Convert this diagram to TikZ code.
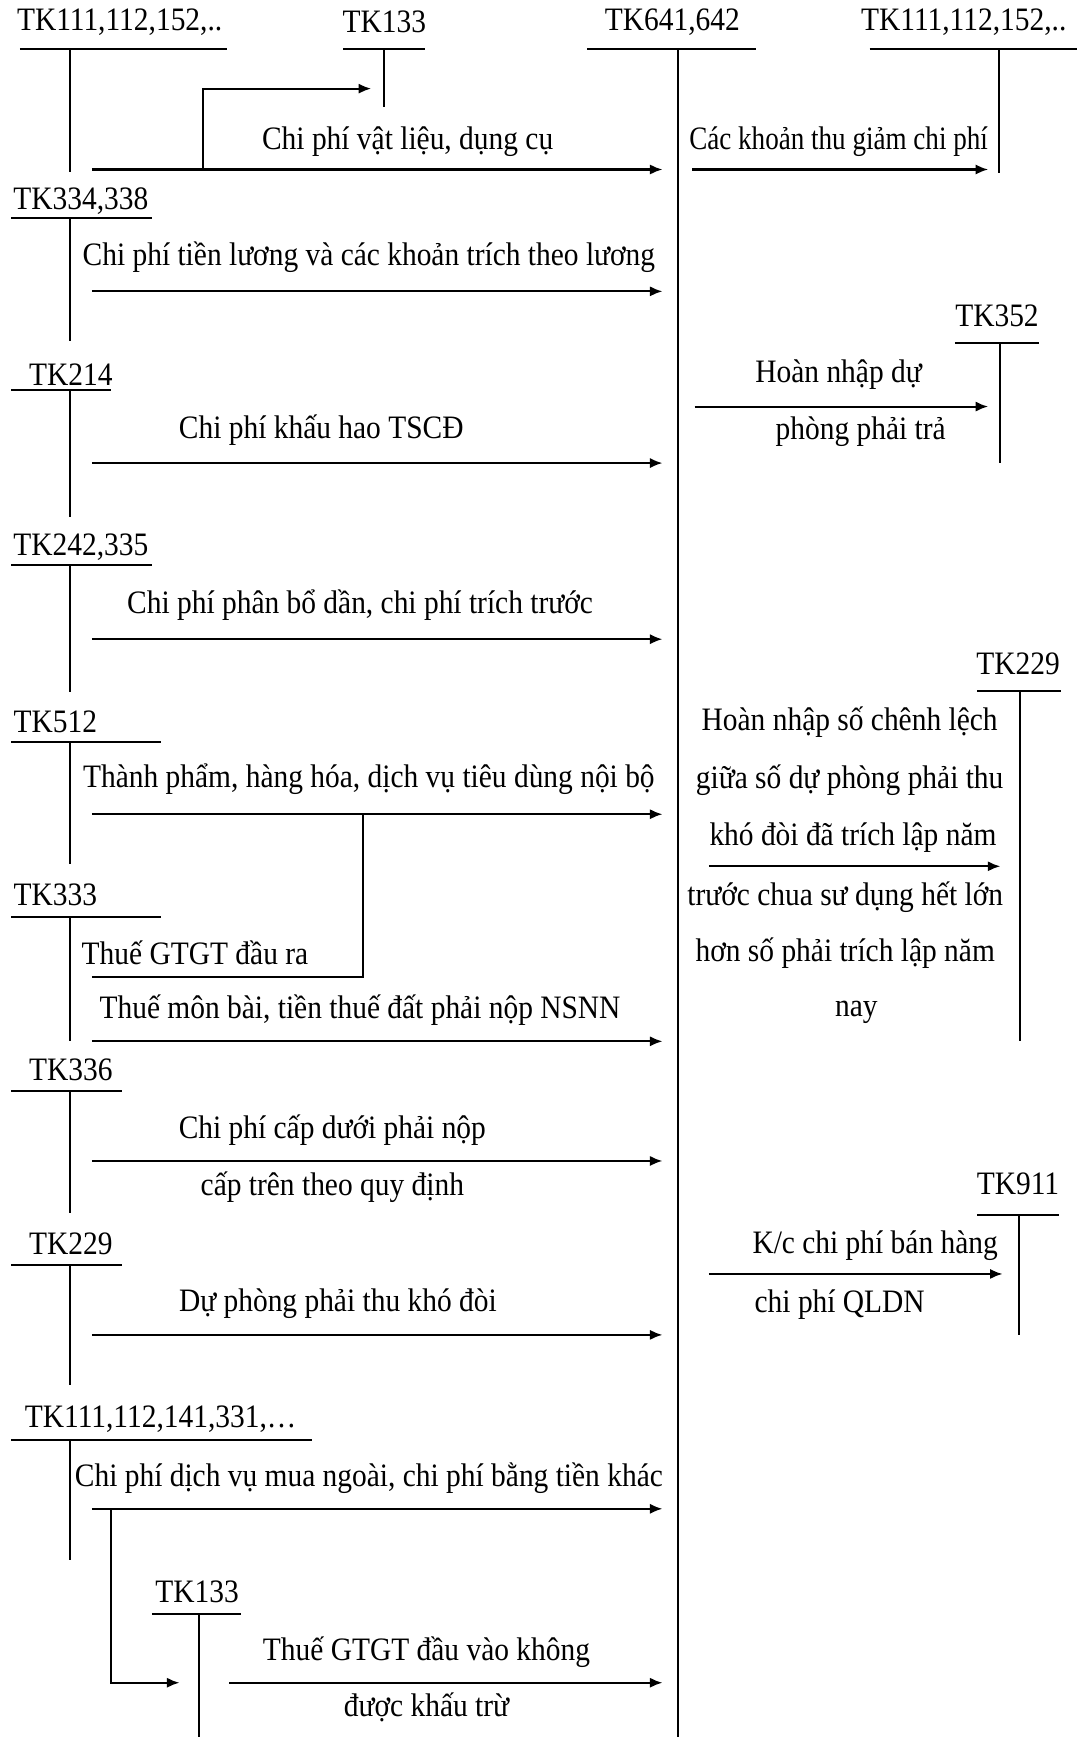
\documentclass[tikz,border=0pt]{standalone}
\usepackage{fontspec}
\usepackage{graphicx}
\setmainfont{Liberation Serif}[FakeStretch=0.9]
\usetikzlibrary{arrows.meta}
\begin{document}
\begin{tikzpicture}[x=0.025cm,y=-0.025cm,
  lbl/.style={font=\fontsize{21}{25}\selectfont, inner sep=0pt, anchor=center},
  ln/.style={line width=1.3pt},
  main/.style={line width=1.7pt},
  arr/.style={line width=1.3pt,-{Latex[length=8pt,width=6.5pt]}}]
\useasboundingbox (0,0) rectangle (975,1568);

% ---------- central account TK641,642 ----------
\node[lbl] (c) at (607,20) {TK641,642};
\coordinate (cl) at (530,44); \coordinate (cr) at (682,44);
\coordinate (ct) at (612,44); \coordinate (cb) at (612,1568);
\draw[ln] (cl) -- (cr);
\draw[main] (ct) -- (cb);

% ---------- left accounts (title, underline, stem) ----------
% TK111,112,152
\node[lbl] (a1) at (108,20) {TK111,112,152,..};
\coordinate (a1l) at (18,44); \coordinate (a1r) at (205,44);
\coordinate (a1t) at (63,44); \coordinate (a1b) at (63,155);
\draw[ln] (a1l) -- (a1r); \draw[ln] (a1t) -- (a1b);
% TK133 (top)
\node[lbl] (b1) at (347,20) {TK133};
\coordinate (b1l) at (310,44); \coordinate (b1r) at (384,44);
\coordinate (b1t) at (347,44); \coordinate (b1b) at (347,97);
\draw[ln] (b1l) -- (b1r); \draw[ln] (b1t) -- (b1b);
% TK334,338
\node[lbl] (a2) at (73,182) {TK334,338};
\coordinate (a2l) at (10,197); \coordinate (a2r) at (137,197);
\coordinate (a2t) at (63,197); \coordinate (a2b) at (63,308);
\draw[ln] (a2l) -- (a2r); \draw[ln] (a2t) -- (a2b);
% TK214
\node[lbl] (a3) at (64,338) {TK214};
\coordinate (a3l) at (10,352); \coordinate (a3r) at (100,352);
\coordinate (a3t) at (63,352); \coordinate (a3b) at (63,467);
\draw[ln] (a3l) -- (a3r); \draw[ln] (a3t) -- (a3b);
% TK242,335
\node[lbl] (a4) at (73,494) {TK242,335};
\coordinate (a4l) at (10,510); \coordinate (a4r) at (137,510);
\coordinate (a4t) at (63,510); \coordinate (a4b) at (63,625);
\draw[ln] (a4l) -- (a4r); \draw[ln] (a4t) -- (a4b);
% TK512
\node[lbl] (a5) at (50,652) {TK512};
\coordinate (a5l) at (10,670); \coordinate (a5r) at (145,670);
\coordinate (a5t) at (63,670); \coordinate (a5b) at (63,780);
\draw[ln] (a5l) -- (a5r); \draw[ln] (a5t) -- (a5b);
% TK333
\node[lbl] (a6) at (50,808) {TK333};
\coordinate (a6l) at (10,828); \coordinate (a6r) at (145,828);
\coordinate (a6t) at (63,828); \coordinate (a6b) at (63,940);
\draw[ln] (a6l) -- (a6r); \draw[ln] (a6t) -- (a6b);
% TK336
\node[lbl] (a7) at (64,966) {TK336};
\coordinate (a7l) at (10,985); \coordinate (a7r) at (110,985);
\coordinate (a7t) at (63,985); \coordinate (a7b) at (63,1095);
\draw[ln] (a7l) -- (a7r); \draw[ln] (a7t) -- (a7b);
% TK229 (left)
\node[lbl] (a8) at (64,1123) {TK229};
\coordinate (a8l) at (10,1142); \coordinate (a8r) at (110,1142);
\coordinate (a8t) at (63,1142); \coordinate (a8b) at (63,1250);
\draw[ln] (a8l) -- (a8r); \draw[ln] (a8t) -- (a8b);
% TK111,112,141,331
\node[lbl] (a9) at (145,1281) {TK111,112,141,331,\ldots};
\coordinate (a9l) at (10,1300); \coordinate (a9r) at (282,1300);
\coordinate (a9t) at (63,1300); \coordinate (a9b) at (63,1408);
\draw[ln] (a9l) -- (a9r); \draw[ln] (a9t) -- (a9b);
% TK133 (bottom)
\node[lbl] (b2) at (178,1437) {TK133};
\coordinate (b2l) at (137,1457); \coordinate (b2r) at (218,1457);
\coordinate (b2t) at (180,1457); \coordinate (b2b) at (180,1568);
\draw[ln] (b2l) -- (b2r); \draw[ln] (b2t) -- (b2b);

% ---------- right accounts ----------
% TK111,112,152 (right)
\node[lbl] (r1) at (870,20) {TK111,112,152,..};
\coordinate (r1l) at (785,44); \coordinate (r1r) at (972,44);
\coordinate (r1t) at (902,44); \coordinate (r1b) at (902,156);
\draw[ln] (r1l) -- (r1r); \draw[ln] (r1t) -- (r1b);
% TK352
\node[lbl] (r2) at (900,285) {TK352};
\coordinate (r2l) at (862,310); \coordinate (r2r) at (938,310);
\coordinate (r2t) at (903,310); \coordinate (r2b) at (903,418);
\draw[ln] (r2l) -- (r2r); \draw[ln] (r2t) -- (r2b);
% TK229 (right)
\node[lbl] (r3) at (919,599) {TK229};
\coordinate (r3l) at (882,624); \coordinate (r3r) at (958,624);
\coordinate (r3t) at (921,624); \coordinate (r3b) at (921,940);
\draw[ln] (r3l) -- (r3r); \draw[ln] (r3t) -- (r3b);
% TK911
\node[lbl] (r4) at (919,1069) {TK911};
\coordinate (r4l) at (882,1097); \coordinate (r4r) at (956,1097);
\coordinate (r4t) at (920,1097); \coordinate (r4b) at (920,1205);
\draw[ln] (r4l) -- (r4r); \draw[ln] (r4t) -- (r4b);

% ---------- debit entries into TK641,642 ----------
\coordinate (e1s) at (83,153);  \coordinate (e1e) at (598,153);
\draw[arr] (e1s) -- (e1e);
\node[lbl] (t1) at (368,128) {Chi phí vật liệu, dụng cụ};
\coordinate (k1) at (183,153); \coordinate (k1u) at (183,80); \coordinate (k1e) at (335,80);
\draw[arr] (k1) -- (k1u) -- (k1e);

\coordinate (e2s) at (83,263);  \coordinate (e2e) at (598,263);
\draw[arr] (e2s) -- (e2e);
\node[lbl] (t2) at (333,232) {Chi phí tiền lương và các khoản trích theo lương};

\coordinate (e3s) at (83,418);  \coordinate (e3e) at (598,418);
\draw[arr] (e3s) -- (e3e);
\node[lbl] (t3) at (290,388) {Chi phí khấu hao TSCĐ};

\coordinate (e4s) at (83,577);  \coordinate (e4e) at (598,577);
\draw[arr] (e4s) -- (e4e);
\node[lbl] (t4) at (325,546) {Chi phí phân bổ dần, chi phí trích trước};

\coordinate (e5s) at (83,735);  \coordinate (e5e) at (598,735);
\draw[arr] (e5s) -- (e5e);
\node[lbl] (t5) at (333,703) {Thành phẩm, hàng hóa, dịch vụ tiêu dùng nội bộ};
\coordinate (g1) at (83,882); \coordinate (g1c) at (328,882); \coordinate (g1j) at (328,735);
\draw[ln] (g1) -- (g1c) -- (g1j);
\node[lbl] (t6) at (176,860) {Thuế GTGT đầu ra};

\coordinate (e6s) at (83,940);  \coordinate (e6e) at (598,940);
\draw[arr] (e6s) -- (e6e);
\node[lbl] (t7) at (325,912) {Thuế môn bài, tiền thuế đất phải nộp NSNN};

\coordinate (e7s) at (83,1048); \coordinate (e7e) at (598,1048);
\draw[arr] (e7s) -- (e7e);
\node[lbl] (t8) at (300,1020) {Chi phí cấp dưới phải nộp};
\node[lbl] (t8b) at (300,1072) {cấp trên theo quy định};

\coordinate (e8s) at (83,1205); \coordinate (e8e) at (598,1205);
\draw[arr] (e8s) -- (e8e);
\node[lbl] (t9) at (305,1177) {Dự phòng phải thu khó đòi};

\coordinate (e9s) at (83,1362); \coordinate (e9e) at (598,1362);
\draw[arr] (e9s) -- (e9e);
\node[lbl] (t10) at (333,1334) {Chi phí dịch vụ mua ngoài, chi phí bằng tiền khác};
\coordinate (k2) at (100,1362); \coordinate (k2d) at (100,1519); \coordinate (k2e) at (162,1519);
\draw[arr] (k2) -- (k2d) -- (k2e);

\coordinate (e10s) at (207,1519); \coordinate (e10e) at (598,1519);
\draw[arr] (e10s) -- (e10e);
\node[lbl] (t11) at (385,1491) {Thuế GTGT đầu vào không};
\node[lbl] (t11b) at (385,1541) {được khấu trừ};

% ---------- credit entries out of TK641,642 ----------
\coordinate (f1s) at (625,153); \coordinate (f1e) at (892,153);
\draw[arr] (f1s) -- (f1e);
\node[lbl] (u1) at (757,128) {\scalebox{0.92}[1]{Các khoản thu giảm chi phí}};

\coordinate (f2s) at (627,367); \coordinate (f2e) at (892,367);
\draw[arr] (f2s) -- (f2e);
\node[lbl] (u2) at (757,338) {Hoàn nhập dự};
\node[lbl] (u2b) at (777,390) {phòng phải trả};

\coordinate (f3s) at (640,782); \coordinate (f3e) at (903,782);
\draw[arr] (f3s) -- (f3e);
\node[lbl] (u3a) at (767,652) {Hoàn nhập số chênh lệch};
\node[lbl] (u3b) at (767,704) {giữa số dự phòng phải thu};
\node[lbl] (u3c) at (770,756) {khó đòi đã trích lập năm};
\node[lbl] (u3d) at (763,810) {trước chua sư dụng hết lớn};
\node[lbl] (u3e) at (763,860) {hơn số phải trích lập năm};
\node[lbl] (u3f) at (773,914) {nay};

\coordinate (f4s) at (640,1150); \coordinate (f4e) at (905,1150);
\draw[arr] (f4s) -- (f4e);
\node[lbl] (u4) at (790,1124) {K/c chi phí bán hàng};
\node[lbl] (u4b) at (758,1178) {chi phí QLDN};
\end{tikzpicture}
\end{document}
